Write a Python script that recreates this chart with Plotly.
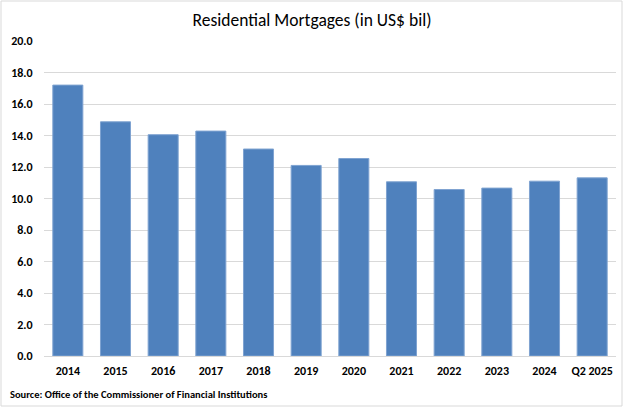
import plotly.graph_objects as go

categories = ["2014", "2015", "2016", "2017", "2018", "2019", "2020",
              "2021", "2022", "2023", "2024", "Q2 2025"]
values = [17.2, 14.87, 14.05, 14.28, 13.14, 12.1, 12.54, 11.06, 10.57, 10.66, 11.1, 11.31]
y_ticks = [0, 2, 4, 6, 8, 10, 12, 14, 16, 18, 20]

FONT = "Carlito, Calibri, Lato, sans-serif"
W, H = 624, 408
L, R, T, B = 44, 8, 41, 52
pw, ph = W - L - R, H - T - B

fig = go.Figure(go.Bar(
    x=categories, y=values,
    marker=dict(color="#4f81bd", line=dict(color="#7fa3d1", width=1)),
))

fig.update_layout(
    width=W, height=H,
    margin=dict(l=L, r=R, t=T, b=B),
    paper_bgcolor="white", plot_bgcolor="white",
    bargap=0.37,
    showlegend=False,
    title=dict(text="Residential Mortgages (in US$ bil)", x=0.5, xanchor="center",
               y=1 - 20 / H, yanchor="middle",
               font=dict(family=FONT, size=17.5, color="#000000")),
    xaxis=dict(showgrid=False, showline=True, linecolor="#d9d9d9", linewidth=1,
               ticks="outside", ticklen=4, tickcolor="rgba(0,0,0,0)",
               tickfont=dict(family=FONT, size=12, color="#000000", weight="bold")),
    yaxis=dict(range=[0, 20], tickvals=y_ticks, tickformat=".1f",
               showgrid=True, gridcolor="#d9d9d9", gridwidth=1,
               zeroline=False, showline=False,
               ticks="outside", ticklen=8, tickcolor="rgba(0,0,0,0)",
               tickfont=dict(family=FONT, size=12, color="#000000", weight="bold")),
    annotations=[dict(text="Source: Office of the Commissioner of Financial Institutions",
                      xref="paper", yref="paper",
                      x=(8 - L) / pw, y=(H - B - 394) / ph,
                      xanchor="left", yanchor="middle", showarrow=False,
                      font=dict(family=FONT, size=10.5, color="#000000", weight="bold"))],
    shapes=[dict(type="rect", xref="paper", yref="paper",
                 x0=(1 - L) / pw, x1=(W - 2 - L) / pw,
                 y0=(H - B - (H - 2)) / ph, y1=(H - B - 1) / ph,
                 line=dict(color="#d9d9d9", width=1))],
)

fig.write_html("out.html")
